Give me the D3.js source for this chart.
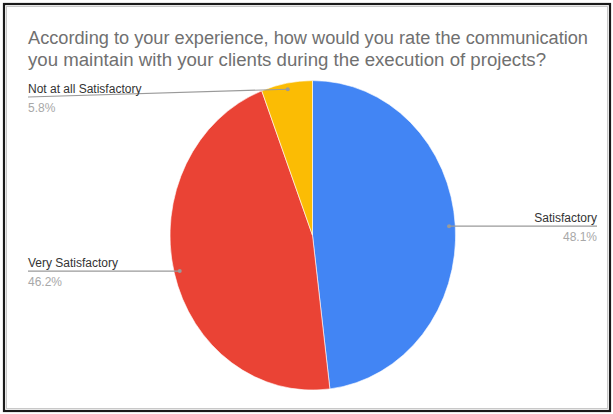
<!DOCTYPE html>
<html>
<head>
<meta charset="utf-8">
<script src="https://cdn.jsdelivr.net/npm/d3@7/dist/d3.min.js"></script>
<style>
  html, body { margin: 0; padding: 0; background: #fff; }
  svg { display: block; }
  text { font-family: Arial, "Liberation Sans", sans-serif; }
</style>
</head>
<body>
<svg id="chart" width="613" height="414"></svg>
<script>
// Survey answers and their shares (percent)
const categories = ["Satisfactory", "Very Satisfactory", "Not at all Satisfactory"];
const shares = [48.1, 46.2, 5.8];
const colors = ["#4285f4", "#ea4335", "#fbbc04"];
const titleLines = [
  "According to your experience, how would you rate the communication",
  "you maintain with your clients during the execution of projects?"
];

const W = 613, H = 414;
const svg = d3.select("#chart");

// Frame
svg.append("rect").attr("x", 4).attr("y", 4).attr("width", 606).attr("height", 407)
  .attr("fill", "#fff").attr("stroke", "#1a1a1a").attr("stroke-width", 2.2);
svg.append("rect").attr("x", 6.5).attr("y", 6.5).attr("width", 601).attr("height", 402)
  .attr("fill", "none").attr("stroke", "#c8c8c8").attr("stroke-width", 1);

// Title, each line stretched to its set width
const titleWidth = [560, 518];
svg.append("g").selectAll("text").data(titleLines).join("text")
  .attr("x", 28).attr("y", (d, i) => 44 + i * 22)
  .attr("font-size", 18).attr("fill", "#707070")
  .attr("textLength", (d, i) => titleWidth[i]).attr("lengthAdjust", "spacingAndGlyphs")
  .text(d => d);

// Pie geometry (slightly taller than wide)
const cx = 312.5, cy = 235.3, rx = 142.5, ry = 154.7;
const pie = d3.pie().sort(null).value(d => d.v);
const data = categories.map((c, i) => ({ c, v: shares[i], col: colors[i] }));
const arcs = pie(data);
const arc = d3.arc().innerRadius(0).outerRadius(1);

const pieG = svg.append("g").attr("transform", `translate(${cx},${cy}) scale(${rx},${ry})`);
pieG.selectAll("path").data(arcs).join("path")
  .attr("d", arc).attr("fill", d => d.data.col)
  .attr("stroke", "#fff").attr("stroke-width", 0.6).attr("vector-effect", "non-scaling-stroke");

// Anchor point on each slice for its leader line
function anchor(a) {
  const m = (a.startAngle + a.endAngle) / 2;
  return [cx + 0.96 * rx * Math.sin(m), cy - 0.96 * ry * Math.cos(m)];
}

// Label placement: side, line end x, line y
const labelPos = [
  { side: "right", x: 597, y: null },
  { side: "left", x: 28, y: null },
  { side: "left", x: 28, y: 97 }
];

const lab = svg.append("g");
arcs.forEach((a, i) => {
  const [ax, ay] = anchor(a);
  const p = labelPos[i];
  const ly = p.y == null ? ay : p.y;
  lab.append("line")
    .attr("x1", ax).attr("y1", ay).attr("x2", p.x).attr("y2", ly)
    .attr("stroke", "#9a9a9a").attr("stroke-width", 1.2);
  lab.append("circle").attr("cx", ax).attr("cy", ay).attr("r", 2)
    .attr("fill", "#9a9a9a");
  const anchorTxt = p.side === "right" ? "end" : "start";
  lab.append("text")
    .attr("x", p.x).attr("y", ly - 4.5)
    .attr("text-anchor", anchorTxt)
    .attr("font-size", 12).attr("fill", "#333")
    .text(a.data.c);
  lab.append("text")
    .attr("x", p.x).attr("y", ly + 15)
    .attr("text-anchor", anchorTxt)
    .attr("font-size", 12).attr("fill", "#a8a8a8")
    .text(d3.format(".1f")(a.data.v) + "%");
});
</script>
</body>
</html>
